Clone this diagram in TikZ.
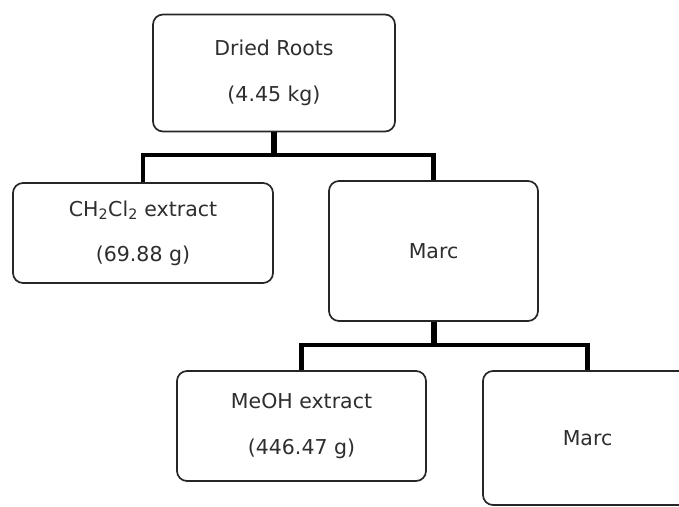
\documentclass[tikz,border=0pt]{standalone}
\usepackage{fontspec}
\setmainfont{DejaVu Sans}
\usetikzlibrary{positioning}
\tikzset{
  box/.style={draw=black!85, line width=1.7pt, rounded corners=10pt, fill=white,
    align=center, inner sep=0pt, text=black!82,
    font=\fontsize{20.5}{24}\selectfont},
  trunk/.style={line width=6pt, black},
  bar/.style={line width=4.5pt, black, line join=miter},
}
\begin{document}
\begin{tikzpicture}[x=1pt,y=-1pt]
\useasboundingbox (0,0) rectangle (679,506);
\clip (0,0) rectangle (679,506);
\node[box, minimum width=242pt, minimum height=117pt] (top) at (274,73) {Dried Roots\\[22pt](4.45 kg)};
\node[box, minimum width=260pt, minimum height=100pt] (left) at (143,233) {CH\textsubscript{2}Cl\textsubscript{2} extract\\[21pt](69.88 g)};
\node[box, minimum width=209pt, minimum height=140pt] (marc1) at (433.5,251) {Marc};
\node[box, minimum width=249pt, minimum height=110pt] (bl) at (301.5,426) {MeOH extract\\[22pt](446.47 g)};
\node[box, minimum width=209pt, minimum height=134pt] (br) at (587.5,438) {Marc};
\coordinate (j1) at (274,155);
\coordinate (j2) at (433.5,345);
\draw[trunk] (top.south) -- (j1);
\draw[bar] (left.north) -- (left.north |- j1) -- (marc1.north |- j1) -- (marc1.north);
\draw[trunk] (marc1.south) -- (j2);
\draw[bar] (bl.north) -- (bl.north |- j2) -- (br.north |- j2) -- (br.north);
\end{tikzpicture}
\end{document}
